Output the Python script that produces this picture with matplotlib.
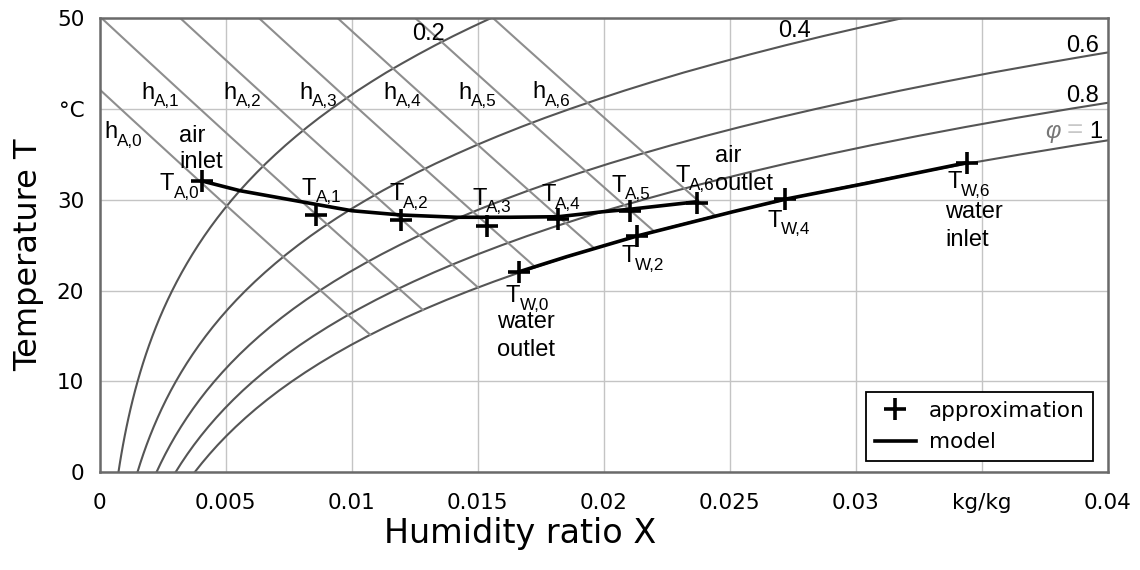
import numpy as np
import matplotlib
matplotlib.use('Agg')
import matplotlib.pyplot as plt
from matplotlib.lines import Line2D

plt.rcParams['font.family'] = ['Liberation Sans', 'DejaVu Sans']
plt.rcParams['mathtext.fontset'] = 'custom'
plt.rcParams['mathtext.rm'] = 'Liberation Sans'
plt.rcParams['mathtext.it'] = 'Liberation Sans:italic'

# ---------------- data ----------------
# saturation vapour pressure of water (Pa), 0..50 degC
sat_T = list(range(0, 51))
sat_p = [611.2, 657.1, 706.0, 758.0, 813.5, 872.6, 935.4, 1002.0, 1072.9, 1148.0,
         1228.1, 1312.9, 1402.7, 1497.9, 1598.8, 1705.6, 1818.5, 1938.0, 2064.4, 2198.0,
         2339.3, 2488.6, 2645.9, 2811.8, 2985.9, 3169.9, 3363.0, 3567.0, 3782.0, 4007.8,
         4246.0, 4495.3, 4758.0, 5034.0, 5323.0, 5627.8, 5945.3, 6280.0, 6630.0, 6997.0,
         7384.9, 7788.0, 8205.0, 8646.0, 9103.0, 9593.0, 10098.0, 10624.0, 11175.0, 11753.0,
         12352.0]
p_atm = 101325.0
phi_levels = [0.2, 0.4, 0.6, 0.8, 1.0]

# enthalpy lines h_A,0 .. h_A,6 (kJ/kg)
h_levels = [42.4, 50.5, 58.6, 66.7, 74.8, 82.8, 90.8]
h_names = ['A,0', 'A,1', 'A,2', 'A,3', 'A,4', 'A,5', 'A,6']

# approximation points
air_X = [0.00407, 0.00859, 0.01195, 0.01537, 0.01821, 0.02105, 0.02372]
air_T = [32.06, 28.30, 27.77, 27.16, 27.85, 28.79, 29.67]
water_X = [0.01666, 0.02132, 0.02720, 0.03441]
water_T = [22.08, 26.06, 30.05, 34.04]

# model curves
air_model_X = [0.00407, 0.00558, 0.00859, 0.01001, 0.01195, 0.01418, 0.01629,
               0.01821, 0.01998, 0.02105, 0.02372]
air_model_T = [32.06, 30.99, 29.49, 28.79, 28.32, 28.07, 28.07,
               28.13, 28.68, 28.95, 29.78]
water_model_X = [0.01666, 0.01854, 0.02132, 0.02514, 0.02720, 0.03044, 0.03441]
water_model_T = [22.08, 23.73, 26.00, 28.68, 30.05, 31.81, 34.07]

x_ticks = [0, 0.005, 0.01, 0.015, 0.02, 0.025, 0.03, 0.035, 0.04]
x_ticklabels = ['0', '0.005', '0.01', '0.015', '0.02', '0.025', '0.03', 'kg/kg', '0.04']
y_ticks = [0, 10, 20, 30, 40, 50]
y_ticklabels = ['0', '10', '20', '30', '°C', '50']

# ---------------- figure ----------------
W, H = 1140, 570
fig = plt.figure(figsize=(W / 100, H / 100), dpi=100)
L, R, TOP, BOT = 99.5, 1107.5, 18.0, 472.3
ax = fig.add_axes([L / W, 1 - BOT / H, (R - L) / W, (BOT - TOP) / H])
ax.set_xlim(0, 0.04)
ax.set_ylim(0, 50)

def px(xp, yp):
    """pixel position -> data coords (for label placement)"""
    return (xp - L) / (R - L) * 0.04, (BOT - yp) / (BOT - TOP) * 50

ax.grid(True, color='#c4c4c4', lw=1.0, zorder=0)
ax.set_axisbelow(True)
for s in ax.spines.values():
    s.set_color('#6a6a6a')
    s.set_linewidth(1.8)

sat_T_arr = np.array(sat_T, dtype=float)
sat_p_arr = np.array(sat_p)
for phi in phi_levels:
    pv = phi * sat_p_arr
    X = 0.622 * pv / (p_atm - pv)
    ax.plot(X, sat_T_arr, color='#555555', lw=1.5, zorder=2)

T_fine = np.linspace(0, 50, 2001)
ps_fine = np.interp(T_fine, sat_T_arr, sat_p_arr)
Xsat_fine = 0.622 * ps_fine / (p_atm - ps_fine)
for h in h_levels:
    Xh = (h - 1.006 * T_fine) / (2501 + 1.86 * T_fine)
    m = (Xh >= 0) & (Xh <= Xsat_fine)
    ax.plot(Xh[m], T_fine[m], color='#8e8e8e', lw=1.5, zorder=2)

ax.plot(air_model_X, air_model_T, color='black', lw=2.6, zorder=4)
ax.plot(water_model_X, water_model_T, color='black', lw=2.6, zorder=4)
ax.plot(air_X, air_T, '+', color='black', ms=16, mew=2.6, zorder=5)
ax.plot(water_X, water_T, '+', color='black', ms=16, mew=2.6, zorder=5)

ax.set_xticks(x_ticks)
ax.set_xticklabels(x_ticklabels)
ax.set_yticks(y_ticks)
ax.set_yticklabels(y_ticklabels)
ax.tick_params(axis='both', length=0, labelsize=15.5)
ax.tick_params(axis='x', pad=15)
ax.tick_params(axis='y', pad=11)
for lab in ax.get_xticklabels() + ax.get_yticklabels():
    lab.set_family('DejaVu Sans')

fig.text(520 / W, 1 - 533 / H, 'Humidity ratio X', ha='center', va='center',
         fontsize=24, family='DejaVu Sans')
fig.text(29 / W, 1 - 255 / H, 'Temperature T', ha='center', va='center',
         rotation=90, fontsize=23, family='DejaVu Sans')

FS = 17
SUB = 12.3
tkw = dict(fontsize=FS, ha='left', va='baseline', zorder=6, family='Liberation Sans')
skw = dict(fontsize=SUB, ha='left', va='baseline', zorder=6, family='Liberation Sans')

def sub_label(main, sub, xp, yp, adv):
    ax.text(*px(xp, yp), main, **tkw)
    ax.text(*px(xp + adv, yp + 7.5), sub, **skw)

# enthalpy labels
h_label_px = [(104, 138), (141, 99), (223, 99), (299, 99), (383, 99), (458, 99), (532, 98)]
for name, (xp, yp) in zip(h_names, h_label_px):
    sub_label('h', name, xp, yp, 13.0)

# relative humidity labels
for txt, (xp, yp) in zip(['0.2', '0.4', '0.6', '0.8'],
                         [(412, 40), (778, 37), (1066, 52), (1066, 102)]):
    ax.text(*px(xp, yp), txt, **tkw)
ax.text(*px(1045, 138), r'$\varphi$', fontsize=FS, ha='left', va='baseline', color='#777777')
ax.text(*px(1067, 138), '=', fontsize=FS + 3, ha='left', va='baseline', color='#c8c8c8')
ax.text(*px(1089, 138), '1', **tkw)

# point labels
pt_labels = [('A,0', 160, 190), ('A,1', 302, 195), ('A,2', 389, 200), ('A,3', 472, 205),
             ('A,4', 541, 201), ('A,5', 611, 192), ('A,6', 675, 182),
             ('W,0', 506, 302), ('W,2', 621, 262), ('W,4', 767, 227), ('W,6', 947, 188)]
for name, xp, yp in pt_labels:
    sub_label('T', name, xp, yp, 13.5)

ax.text(*px(179, 142), 'air', **tkw)
ax.text(*px(179, 168), 'inlet', **tkw)
ax.text(*px(715, 162), 'air', **tkw)
ax.text(*px(715, 190), 'outlet', **tkw)
ax.text(*px(497, 328), 'water', **tkw)
ax.text(*px(497, 356), 'outlet', **tkw)
ax.text(*px(945, 218), 'water', **tkw)
ax.text(*px(945, 246), 'inlet', **tkw)

handles = [Line2D([], [], ls='none', marker='+', color='black', ms=16, mew=2.6),
           Line2D([], [], color='black', lw=2.6)]
leg = ax.legend(handles, ['approximation', 'model'], loc='lower right',
                bbox_to_anchor=(1093 / W, 1 - 461 / H), bbox_transform=fig.transFigure,
                borderaxespad=0, fancybox=False, framealpha=1, edgecolor='black',
                prop={'family': 'DejaVu Sans', 'size': 15.5}, handlelength=1.9,
                handletextpad=0.6, borderpad=0.4, labelspacing=0.55)
leg.get_frame().set_linewidth(1.3)

fig.savefig('out.png', dpi=100)
